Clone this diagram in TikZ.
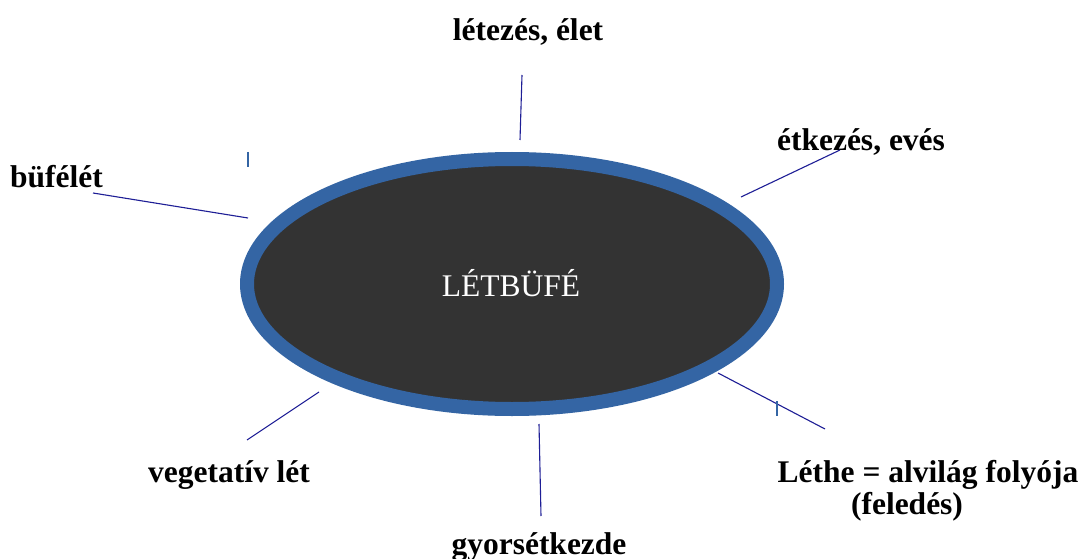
\documentclass[tikz,border=0pt]{standalone}
\usepackage{fontspec}
\setmainfont{Liberation Serif}
\definecolor{ringblue}{RGB}{52,101,164}
\definecolor{coreg}{RGB}{51,51,51}
\definecolor{linkblue}{RGB}{30,30,150}
\begin{document}
\begin{tikzpicture}[x=1pt,y=-1pt,
  lbl/.style={font=\fontsize{31.5}{31.5}\selectfont\bfseries, inner sep=0pt, anchor=base},
  link/.style={draw=linkblue, line width=1.1pt},
  tick/.style={draw=ringblue, line width=1.3pt}]
\useasboundingbox (0,0) rectangle (1090,559);
\fill[white] (0,0) rectangle (1090,559);
% central ellipse
\draw[fill=coreg, draw=ringblue, line width=14pt] (512,284) ellipse [x radius=265, y radius=125];
\node[font=\fontsize{31.5}{31.5}\selectfont, text=white, inner sep=0pt, anchor=base] (c) at (511,296) {LÉTBÜFÉ};
% labels
\node[lbl] (top) at (528,41) {létezés, élet};
\node[lbl] (ne) at (861,151) {étkezés, evés};
\node[lbl, anchor=base west] (nw) at (10,187) {büfélét};
\node[lbl] (sw) at (229,482) {vegetatív lét};
\node[lbl] (bot) at (539,554) {gyorsétkezde};
\node[lbl] (se1) at (928,482) {Léthe = alvilág folyója};
\node[lbl] (se2) at (907,514) {(feledés)};
% connector end points
\coordinate (t1) at (522,75); \coordinate (t2) at (520,140);
\coordinate (ne1) at (741,197); \coordinate (ne2) at (840,150);
\coordinate (nw1) at (93,193); \coordinate (nw2) at (248,218);
\coordinate (sw1) at (247,440); \coordinate (sw2) at (319,392);
\coordinate (b1) at (539,424); \coordinate (b2) at (541,516);
\coordinate (se1a) at (718,373); \coordinate (se1b) at (825,429);
\draw[link] (t1) -- (t2);
\draw[link] (ne1) -- (ne2);
\draw[link] (nw1) -- (nw2);
\draw[link] (sw1) -- (sw2);
\draw[link] (b1) -- (b2);
\draw[link] (se1a) -- (se1b);
% small ticks
\coordinate (k1) at (248,152); \coordinate (k2) at (248,167);
\coordinate (k3) at (777,401); \coordinate (k4) at (777,416);
\draw[tick] (k1) -- (k2);
\draw[tick] (k3) -- (k4);
\end{tikzpicture}
\end{document}
